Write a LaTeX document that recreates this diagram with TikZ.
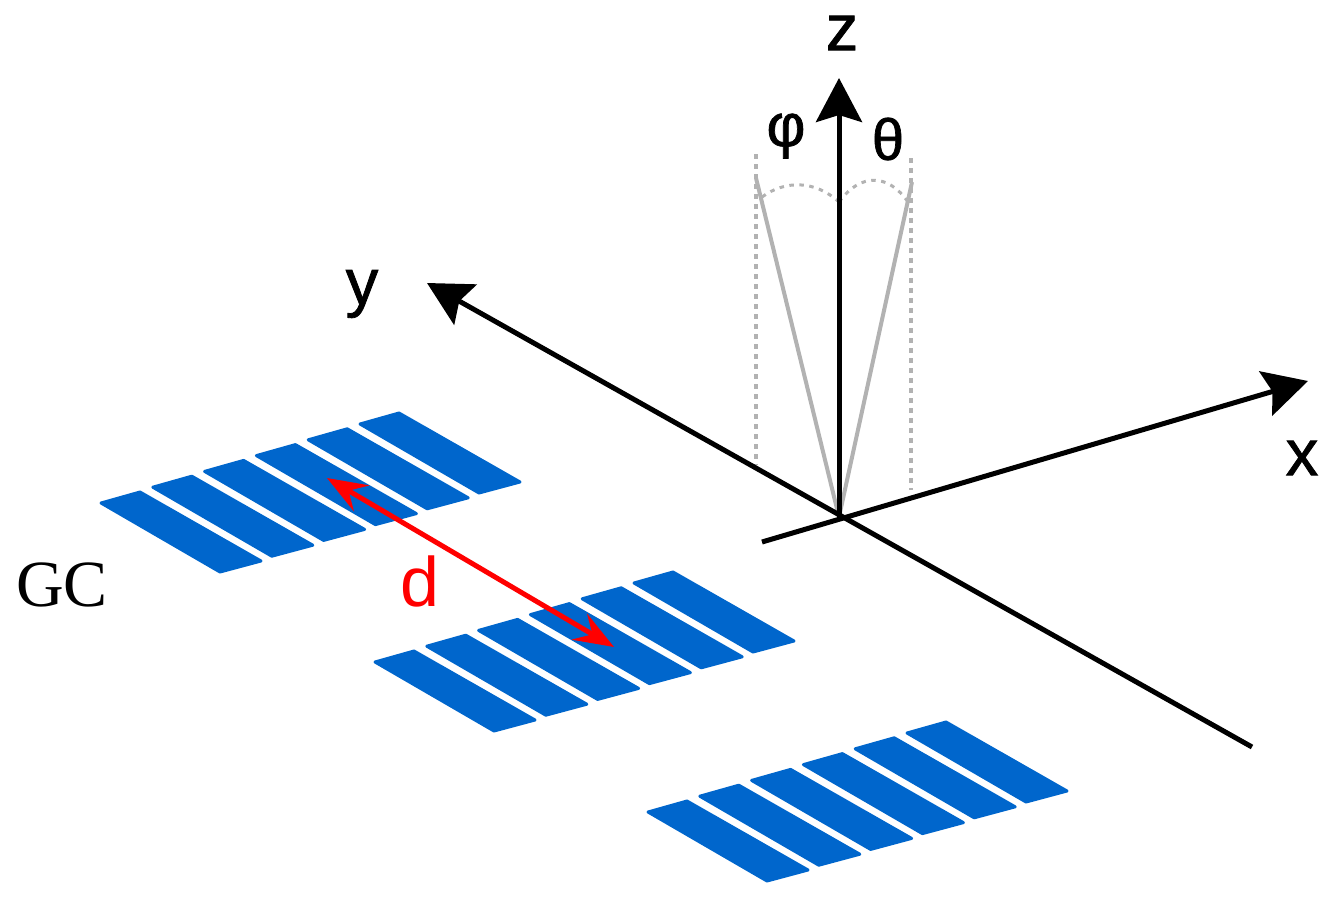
\documentclass[tikz,border=0pt]{standalone}
\usepackage{fontspec}
\setmainfont{Liberation Sans}
\newfontfamily\labelfont{Liberation Sans}[FakeBold=1.2]
\newfontfamily\serifgc{Liberation Serif}
\usetikzlibrary{arrows.meta}
\definecolor{stripblue}{HTML}{0066CC}

\begin{document}
\begin{tikzpicture}[x=1pt,
					y=-1pt,
					axis line/.style={line width=5pt,black},
					axis arrow/.style={axis line,-{Stealth[length=44pt,width=46pt,inset=7pt]}},
					tilt line/.style={line width=4pt,black!30},
					guide line/.style={line width=3.6pt,black!30,dash pattern=on 4.5pt off 5.5pt},
					dist arrow/.style={line width=5pt,red,{Stealth[length=40pt,width=30pt,inset=15pt]}-{Stealth[length=40pt,width=30pt,inset=15pt]}},
					strip/.style={fill=stripblue,draw=stripblue,line width=3pt,line join=round},
					axis label/.style={font=\labelfont\fontsize{65}{65}\selectfont,inner sep=0pt}]

  \useasboundingbox (0,0) rectangle (1331,898);

  % gratings
  \foreach \gx/\gy in {0/0,274/159,547/309}
    \foreach \n in {0,...,5}
      \path[strip,shift={({\gx+51.8*\n},{\gy-15.8*\n})}]
        (101,503) -- (140,492) -- (261,561) -- (220,572) -- cycle;

  \coordinate (O) at (839,517);
  \coordinate (Ztip) at (839,78);
  \coordinate (Ytip) at (427,283);
  \coordinate (Xtip) at (1308,381);
  \coordinate (Yend) at (1252,747);
  \coordinate (Xend) at (762,542);
  \coordinate (PhiTop) at (756,178);
  \coordinate (ThetaTop) at (912,182);
  \coordinate (Phi1) at (756,154);
  \coordinate (Phi2) at (756,465);
  \coordinate (Theta1) at (911,158);
  \coordinate (Theta2) at (911,490);
  \coordinate (ArcMid) at (839,202);
  \coordinate (ArcL) at (762,197);
  \coordinate (ArcR) at (908,202);
  \coordinate (DistA) at (327,478);
  \coordinate (DistB) at (614,647);

  % angle guides
  \draw[guide line] (Phi1) -- (Phi2);
  \draw[guide line] (Theta1) -- (Theta2);
  \draw[guide line,line width=3pt] (ArcL) .. controls (785,180) and (815,180) .. (ArcMid);
  \draw[guide line,line width=3pt] (ArcMid) .. controls (860,173) and (888,173) .. (ArcR);
  \draw[tilt line] (O) -- (PhiTop);
  \draw[tilt line] (O) -- (ThetaTop);

  % axes
  \draw[axis arrow] (O) -- (Ztip);
  \draw[axis arrow] (Yend) -- (Ytip);
  \draw[axis arrow] (Xend) -- (Xtip);

  \draw[dist arrow] (DistA) -- (DistB);

  \node[axis label] (zlab) at (842,33) {z};
  \node[axis label] (ylab) at (362,294) {y};
  \node[axis label] (xlab) at (1302,458) {x};
  \node[axis label,font=\labelfont\fontsize{60}{60}\selectfont] (philab) at (786,136) {φ};
  \node[axis label,font=\labelfont\fontsize{58}{58}\selectfont] (thetalab) at (888,139) {θ};
  \node[axis label,red,font=\fontsize{70}{70}\selectfont] (dlab) at (420,581) {d};
  \node[inner sep=0pt,font=\serifgc\fontsize{66}{66}\selectfont] (gclab) at (62,585) {GC};
\end{tikzpicture}
\end{document}
